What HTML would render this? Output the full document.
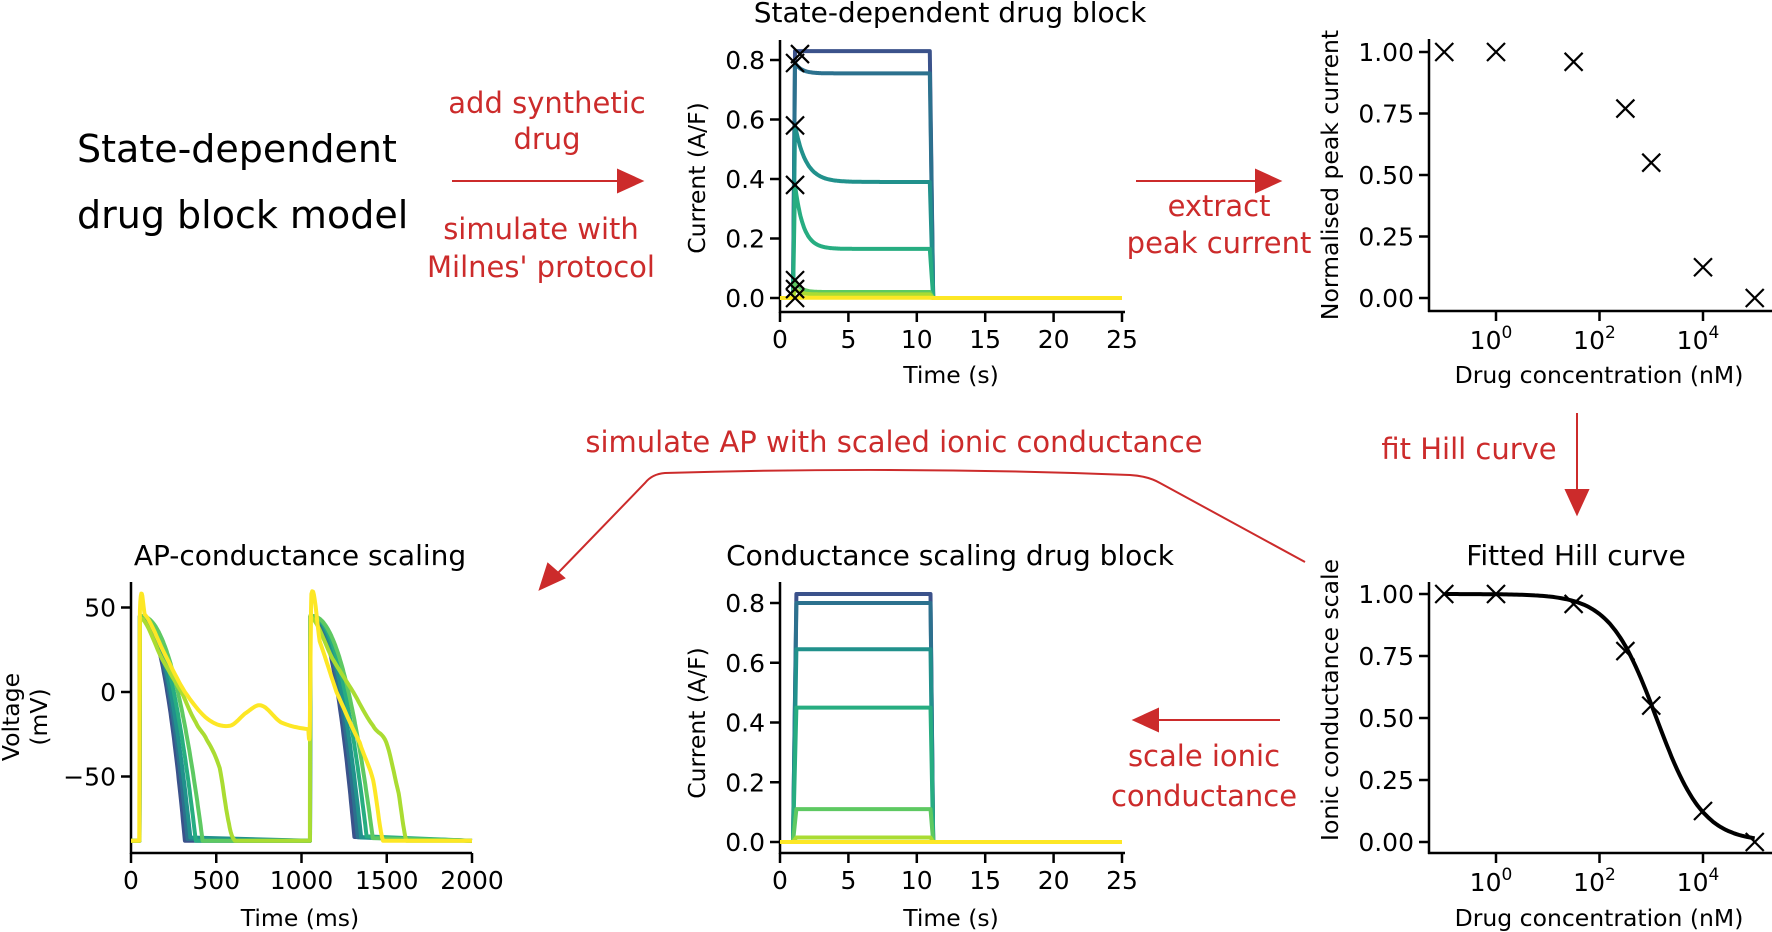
<!DOCTYPE html>
<html><head><meta charset="utf-8"><style>
html,body{margin:0;padding:0;background:#fff;}
svg{display:block;font-family:"DejaVu Sans","Liberation Sans",sans-serif;}
.t{font-size:25px;fill:#000}
.lab{font-size:23.5px;fill:#000}
.ttl{font-size:28px;fill:#000}
.red{font-size:29px;fill:#cc2b2b}
.ax{stroke:#000;stroke-width:2.5;fill:none}
.mk{stroke:#000;stroke-width:2.2;fill:none}
</style></head><body>
<svg id="s" width="1772" height="932" viewBox="0 0 1772 932" xmlns="http://www.w3.org/2000/svg">
<text x="77" y="162" style="font-size:38px">State-dependent</text>
<text x="77" y="228" style="font-size:38px">drug block model</text>
<g text-anchor="middle">
<text class="red" x="547" y="113">add synthetic</text>
<text class="red" x="547" y="149">drug</text>
<text class="red" x="541" y="239">simulate with</text>
<text class="red" x="541" y="277">Milnes' protocol</text>
<text class="red" x="1219" y="216">extract</text>
<text class="red" x="1219" y="253">peak current</text>
<text class="red" x="1469" y="459">fit Hill curve</text>
<text class="red" x="894" y="452">simulate AP with scaled ionic conductance</text>
<text class="red" x="1204" y="766">scale ionic</text>
<text class="red" x="1204" y="806">conductance</text>
</g>
<g stroke="#cc2b2b" stroke-width="2" fill="#cc2b2b">
<line x1="452" y1="181" x2="620" y2="181"/><polygon points="642,181 618,170 618,192"/>
<line x1="1136" y1="181" x2="1258" y2="181"/><polygon points="1280,181 1256,170 1256,192"/>
<line x1="1577" y1="413" x2="1577" y2="492"/><polygon points="1577,514 1566,490 1588,490"/>
<line x1="1280" y1="720" x2="1156" y2="720"/><polygon points="1134,720 1158,709 1158,731"/>
<path d="M1305,562 L1160,483 Q1148,476 1130,475 Q900,466 665,473 Q652,474 645,483 L558,573" fill="none"/>
<polygon points="540,589 548,564 564,578"/>
</g>
<g text-anchor="middle">
<text class="ttl" x="950" y="22">State-dependent drug block</text>
<text class="ttl" x="1576" y="565">Fitted Hill curve</text>
<text class="ttl" x="950" y="565">Conductance scaling drug block</text>
<text class="ttl" x="300" y="565">AP-conductance scaling</text>
</g>
<g text-anchor="middle">
<text class="lab" transform="translate(705,178) rotate(-90)">Current (A/F)</text>
<text class="lab" transform="translate(705,723) rotate(-90)">Current (A/F)</text>
<text class="lab" transform="translate(1338,175) rotate(-90)">Normalised peak current</text>
<text class="lab" transform="translate(1338,700) rotate(-90)">Ionic conductance scale</text>
<text class="lab" transform="translate(19,717) rotate(-90)">Voltage</text>
<text class="lab" transform="translate(47,717) rotate(-90)">(mV)</text>
<text class="lab" x="951" y="383">Time (s)</text>
<text class="lab" x="951" y="926">Time (s)</text>
<text class="lab" x="300" y="926">Time (ms)</text>
<text class="lab" x="1599" y="383">Drug concentration (nM)</text>
<text class="lab" x="1599" y="926">Drug concentration (nM)</text>
</g>
<g id="gen"></g>
</svg>
<script>
var g=document.getElementById('gen'),NS='http://www.w3.org/2000/svg';
function el(t,a,txt){var e=document.createElementNS(NS,t);for(var k in a)e.setAttribute(k,a[k]);if(txt!==undefined)e.textContent=txt;g.appendChild(e);return e;}
function line(x1,y1,x2,y2,c){el('line',{x1:x1,y1:y1,x2:x2,y2:y2,'class':c||'ax'});}
function poly(pts,col,w){el('polyline',{points:pts.map(function(p){return p[0].toFixed(1)+','+p[1].toFixed(1)}).join(' '),fill:'none',stroke:col,'stroke-width':w||4,'stroke-linejoin':'round'});}
function mk(x,y){var r=9;line(x-r,y-r,x+r,y+r,'mk');line(x-r,y+r,x+r,y-r,'mk');}
function txt(x,y,s,anchor){el('text',{x:x,y:y,'class':'t','text-anchor':anchor||'middle'},s);}
var cols=['#3b528b','#2c718e','#21918c','#27ad81','#5ec962','#aadc32','#fde725'];
function axes(x0,x1,ytop,ybot,xt,yt){line(x0,ytop,x0,ybot+1);line(x0-1,ybot,x1,ybot);
 xt.forEach(function(a){line(a[0],ybot,a[0],ybot+10);if(a[1])txt(a[0],ybot+36,a[1]);});
 yt.forEach(function(a){line(x0-10,a[0],x0,a[0]);txt(x0-15,a[0]+9,a[1],'end');});}
function tm(yz,sc,ytop,ybot){var X=function(t){return 780+13.68*t},ts=[];for(var i=0;i<=5;i++)ts.push([X(5*i),String(5*i)]);
 var ys=[];for(var k=0;k<=4;k++)ys.push([yz-sc*0.2*k,(0.2*k).toFixed(1)]);axes(780,1125,ytop,ybot,ts,ys);return X;}
var X=tm(298,297.5,40,312);
var cur=[[0.83,0.83,1],[0.79,0.755,0.5],[0.58,0.39,0.8],[0.38,0.165,0.6],[0.06,0.02,0.4],[0.03,0.012,0.4],[0.001,0.001,1]];
cur.forEach(function(c,i){var p=[[X(0),298],[X(0.95),298]];for(var t=1.1;t<=11;t+=0.05){var v=c[1]+(c[0]-c[1])*Math.exp(-(t-1.1)/c[2]);p.push([X(t),298-297.5*v]);}
 p.push([X(11.2),298]);p.push([X(25),298]);poly(p,cols[i]);});
[[1.46,0.82],[1.1,0.79],[1.1,0.58],[1.1,0.38],[1.1,0.06],[1.1,0.03],[1.1,0.0]].forEach(function(m){mk(X(m[0]),298-297.5*m[1]);});
X=tm(842,298.75,582,853);
[0.83,0.80,0.645,0.45,0.11,0.015,0.0].forEach(function(v,i){var p=[[X(0),842],[X(0.95),842],[X(1.2),842-298.75*v],[X(11),842-298.75*v],[X(11.2),842],[X(25),842]];poly(p,cols[i]);});
function LX(l){return 1496+51.75*l;}
function logax(yz,sc,ytop,ybot){var ys=[];[0,0.25,0.5,0.75,1].forEach(function(v){ys.push([yz-sc*v,v.toFixed(2)]);});
 axes(1429,1772,ytop,ybot,[],ys);[0,2,4].forEach(function(l){var x=LX(l);line(x,ybot,x,ybot+10);
 var e=el('text',{x:x-5,y:ybot+38,'class':'t','text-anchor':'middle'},'10');var s=document.createElementNS(NS,'tspan');s.setAttribute('dy','-11');s.setAttribute('style','font-size:17px');s.textContent=String(l);e.appendChild(s);});}
var pts=[[-1,1.0],[0,1.0],[1.5,0.96],[2.5,0.77],[3,0.55],[4,0.125],[5,0.0]];
logax(298,246,39,311);pts.forEach(function(p){mk(LX(p[0]),298-246*p[1]);});
logax(842,248,582,853);
var hp=[];for(var l=-1;l<=5.001;l+=0.05){var v=1/(1+Math.pow(10,(l-3.1)*0.96));hp.push([LX(l),842-248*v]);}poly(hp,'#000',4);
pts.forEach(function(p){mk(LX(p[0]),842-248*p[1]);});
var TX=function(t){return 131+0.1705*t},VY=function(v){return 692-1.69*v};
var xt=[];[0,500,1000,1500,2000].forEach(function(t){xt.push([TX(t),String(t)]);});
axes(131,472,582,853,xt,[[VY(50),'50'],[VY(0),'0'],[VY(-50),'\u221250']]);
function ap(t1,end,vpk){var p=[];for(var t=t1;t<=end;t+=4){var s=(t-t1)/(end-t1);var v=vpk-133*Math.pow(s,2.1);p.push([TX(t),VY(Math.max(v,-88))]);}return p;}
var ends1=[316,333,350,380,420],ends2=[1312,1332,1352,1385,1420];
for(var i=0;i<5;i++){var p=[[TX(0),VY(-88)],[TX(50),VY(-88)],[TX(52),VY(45)]].concat(ap(60,ends1[i],45));
 p.push([TX(1050),VY(-88)],[TX(1052),VY(45)]);p=p.concat(ap(1062,ends2[i],45));p.push([TX(2000),VY(-88)]);poly(p,cols[i]);}
// Catmull-Rom smoothing in data space
function sm(P){var o=[];for(var i=0;i<P.length-1;i++){var p0=P[Math.max(i-1,0)],p1=P[i],p2=P[i+1],p3=P[Math.min(i+2,P.length-1)];
 var sharp=(p2[0]-p1[0])<4;if(sharp){o.push([TX(p1[0]),VY(p1[1])]);continue;}
 for(var k=0;k<10;k++){var u=k/10,u2=u*u,u3=u2*u;var f=function(a,b,c,d){return 0.5*(2*b+(-a+c)*u+(2*a-5*b+4*c-d)*u2+(-a+3*b-3*c+d)*u3);};
 var yy=f(p0[1],p1[1],p2[1],p3[1]);if(Math.abs(p1[0]-p0[0])<4||Math.abs(p3[0]-p2[0])<4)yy=p1[1]+(p2[1]-p1[1])*u;
 o.push([TX(p1[0]+(p2[0]-p1[0])*u),VY(Math.max(yy,-88))]);}}
 var l=P[P.length-1];o.push([TX(l[0]),VY(l[1])]);return o;}
var lg=[[0,-88],[50,-88],[52,44],[70,43],[180,20],[297,0],[380,-18],[443,-28],[520,-45],[575,-78],[609,-88],[1049,-88],[1050,-25],[1052,45],[1070,43],[1180,20],[1303,0],[1420,-20],[1498,-30],[1570,-60],[1615,-88],[2000,-88]];
poly(sm(lg),cols[5]);
var yl=[[0,-88],[48,-88],[52,48],[80,46],[200,22],[316,0],[450,-16],[580,-20],[680,-12],[765,-8],[880,-18],[1039,-22],[1048,-22],[1058,58],[1107,30],[1205,0],[1342,-30],[1420,-52],[1478,-88],[2000,-88]];
poly(sm(yl),cols[6]);
</script>
</body></html>
